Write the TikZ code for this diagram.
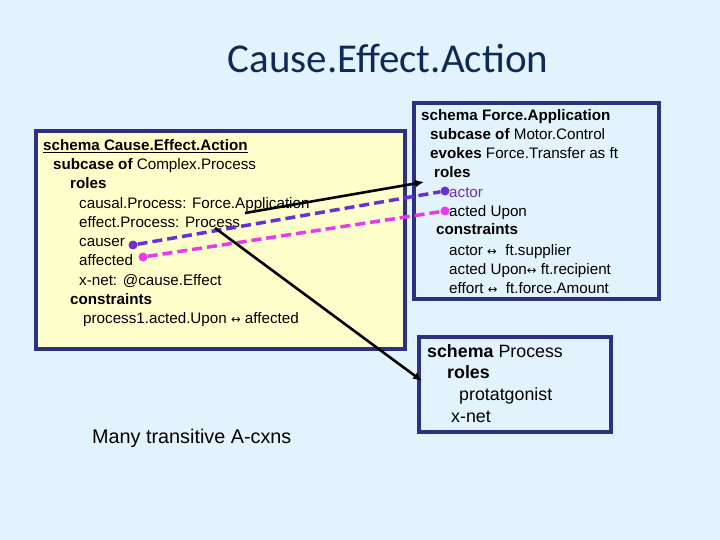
\documentclass[tikz,border=0pt]{standalone}
\usepackage{fontspec}
\setmainfont{Liberation Sans}
\newfontfamily\titlefont{Carlito}
\newfontfamily\dvs{DejaVu Sans}
\newcommand{\lr}{{\dvs\fontsize{11.5}{11}\selectfont ↔}}
\usetikzlibrary{arrows.meta}
\definecolor{bg}{HTML}{E3F3FD}
\definecolor{ylw}{HTML}{FFFFCC}
\definecolor{navy}{HTML}{2E3080}
\definecolor{ttl}{HTML}{0E2A55}
\definecolor{purp}{HTML}{6B2FD6}
\definecolor{mag}{HTML}{E83BE8}
\definecolor{actc}{HTML}{7030A0}
\tikzset{
  panel/.style={draw=navy,line width=3.5pt},
  ln/.style={anchor=base west,inner sep=0pt,font=\fontsize{15.2}{17}\selectfont},
  lnb/.style={anchor=base west,inner sep=0pt,font=\fontsize{17.8}{19}\selectfont},
  blk/.style={line width=2.6pt,-{Latex[length=9pt,width=8pt]}},
  dsh/.style={line width=3.5pt,dash pattern=on 10pt off 5pt},
  dot/.style={circle,inner sep=0pt,minimum size=9pt}
}
\begin{document}
\begin{tikzpicture}[x=1pt,y=-1pt]
\fill[bg] (0,0) rectangle (720,540);
\useasboundingbox (0,0) rectangle (720,540);
\node[font=\titlefont\fontsize{41}{41}\selectfont,text=ttl] (title) at (388,58) {Cause.Effect.Action};
\draw[panel,fill=ylw] (36,131) rectangle (405,349);
\draw[panel] (414,103) rectangle (659,299);
\draw[panel] (419,337) rectangle (611,432);
% left
\node[ln] (l1) at (43,151) {\textbf{\underline{schema Cause.Effect.Action}}};
\node[ln] (l2) at (53,170) {\textbf{subcase of} Complex.Process};
\node[ln] (l3) at (70,189) {\textbf{roles}};
\node[ln] (l4) at (79,208) {causal.Process: Force.Application};
\node[ln] (l5) at (79,227) {effect.Process: Process};
\node[ln] (l6) at (79,246) {causer};
\node[ln] (l7) at (79,265) {affected};
\node[ln] (l8) at (79,285) {x-net: @cause.Effect};
\node[ln] (l9) at (70,304) {\textbf{constraints}};
\node[ln] (l10) at (83,323) {process1.acted.Upon \lr{} affected};
% right top
\node[ln] (r1) at (421,121) {\textbf{schema Force.Application}};
\node[ln] (r2) at (430,140) {\textbf{subcase of} Motor.Control};
\node[ln] (r3) at (430,159) {\textbf{evokes} Force.Transfer as ft};
\node[ln] (r4) at (434,178) {\textbf{roles}};
\node[ln,text=actc] (r5) at (449,197) {actor};
\node[ln] (r6) at (449,216) {acted Upon};
\node[ln] (r7) at (436,235) {\textbf{constraints}};
\node[ln] (r8) at (449,255) {actor \lr{}\ \ ft.supplier};
\node[ln] (r9) at (449,274) {acted Upon\lr{} ft.recipient};
\node[ln] (r10) at (449,293) {effort \lr{}\ \ ft.force.Amount};
% bottom
\node[lnb] (b1) at (427,357) {\textbf{schema} Process};
\node[lnb] (b2) at (447,378) {\textbf{roles}};
\node[lnb] (b3) at (459,400) {protatgonist};
\node[lnb] (b4) at (451,422) {x-net};
\node[anchor=base west,inner sep=0pt,font=\fontsize{19.8}{20}\selectfont] (many) at (92,443) {Many transitive A-cxns};
% connectors
\coordinate (cfa) at (245,213);
\coordinate (cpr) at (215,228);
\coordinate (tfa) at (424,182);
\coordinate (tpr) at (422,381);
\node[dot,fill=purp] (causer) at (133,245) {};
\node[dot,fill=mag] (affected) at (143,257) {};
\node[dot,fill=purp] (actor) at (445,191) {};
\node[dot,fill=mag] (actedupon) at (445,211) {};
\draw[dsh,draw=purp] (causer) -- (actor);
\draw[dsh,draw=mag] (affected) -- (actedupon);
\draw[blk] (cfa) -- (tfa);
\draw[blk] (cpr) -- (tpr);
\end{tikzpicture}
\end{document}
